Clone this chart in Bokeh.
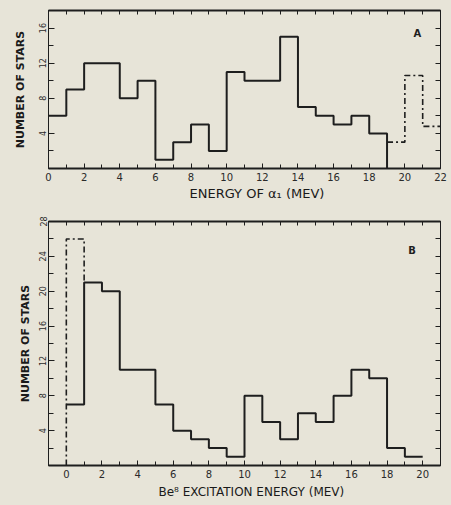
from bokeh.plotting import figure
from bokeh.models import LinearAxis, FixedTicker, Range1d, Label, Title
from bokeh.layouts import column
from bokeh.embed import file_html
from bokeh.resources import INLINE

# ---------------- data ----------------
# Panel A: energy of alpha_1 (MeV), bins of width 1
a_edges = list(range(0, 20))           # 0..19
a_counts = [6, 9, 12, 12, 8, 10, 1, 3, 5, 2, 11, 10, 10, 15, 7, 6, 5, 6, 4]
a_dash_edges = [19, 20, 21, 22]
a_dash_counts = [3, 10.6, 4.8]
a_xticks = [0, 2, 4, 6, 8, 10, 12, 14, 16, 18, 20, 22]
a_yticks = [4, 8, 12, 16]

# Panel B: Be8 excitation energy (MeV)
b_edges = list(range(0, 21))           # 0..20
b_counts = [7, 21, 20, 11, 11, 7, 4, 3, 2, 1, 8, 5, 3, 6, 5, 8, 11, 10, 2, 1]
b_dash_edges = [0, 1]
b_dash_counts = [26]
b_xticks = [0, 2, 4, 6, 8, 10, 12, 14, 16, 18, 20]
b_yticks = [4, 8, 12, 16, 20, 24, 28]

BG = "#e7e4d8"
INK = "#1e1e1e"
FONT = "DejaVu Sans"


def step_path(edges, counts, start0=False, end0=False):
    xs, ys = [], []
    if start0:
        xs.append(edges[0]); ys.append(0)
    for i, c in enumerate(counts):
        xs += [edges[i], edges[i + 1]]
        ys += [c, c]
    if end0:
        xs.append(edges[-1]); ys.append(0)
    return xs, ys


def make_panel(height, xr, yr, border_top, border_bottom, border_right,
               xticks, xminor, yticks, yminor, ytitle, ylab_standoff,
               xtitle, xtitle_offset, xtitle_size, xtitle_standoff):
    p = figure(width=451, height=height, x_range=Range1d(*xr), y_range=Range1d(*yr),
               output_backend="svg", toolbar_location=None,
               x_axis_location=None, y_axis_location=None,
               min_border_left=48, min_border_right=border_right,
               min_border_top=border_top, min_border_bottom=border_bottom)
    p.background_fill_color = BG
    p.border_fill_color = BG
    p.outline_line_color = INK
    p.outline_line_width = 1
    p.grid.visible = False

    def style(ax):
        ax.axis_line_color = INK
        ax.major_tick_line_color = INK
        ax.minor_tick_line_color = INK
        ax.major_tick_out = 0
        ax.minor_tick_out = 0
        ax.major_tick_in = 5
        ax.minor_tick_in = 4
        ax.major_label_text_color = "#2a2a2a"
        ax.major_label_text_font = FONT
        ax.major_label_text_font_size = "10px"
        ax.axis_label_text_font = FONT
        ax.axis_label_text_color = "#1a1a1a"
        ax.axis_label_text_font_style = "normal"

    # bottom axis
    xb = LinearAxis(ticker=FixedTicker(ticks=xticks, minor_ticks=xminor))
    style(xb)
    xb.axis_line_width = 2
    xb.major_label_standoff = 4
    p.add_layout(xb, "below")

    # x title below the axis, left aligned at an offset from the frame
    p.add_layout(Title(text=xtitle, align="left", offset=xtitle_offset,
                       standoff=xtitle_standoff, text_font=FONT,
                       text_font_size=xtitle_size, text_font_style="normal",
                       text_color="#1a1a1a"), "below")

    # top axis (ticks only, no labels)
    xt = LinearAxis(ticker=FixedTicker(ticks=[], minor_ticks=sorted(xticks + xminor)))
    style(xt)
    xt.axis_line_width = 2
    xt.minor_tick_in = 4
    p.add_layout(xt, "above")

    # left axis
    yl = LinearAxis(ticker=FixedTicker(ticks=yticks, minor_ticks=yminor))
    style(yl)
    yl.major_tick_in = 6
    yl.minor_tick_in = 5
    yl.major_label_orientation = "vertical"
    yl.major_label_text_font_size = "8px"
    yl.major_label_standoff = 2
    yl.axis_label = ytitle
    yl.axis_label_text_font_size = "11px"
    yl.axis_label_text_font_style = "bold"
    yl.axis_label_standoff = ylab_standoff
    p.add_layout(yl, "left")

    # right axis (ticks only, no labels)
    yr_ax = LinearAxis(ticker=FixedTicker(ticks=[], minor_ticks=sorted(yminor + yticks)))
    style(yr_ax)
    yr_ax.minor_tick_in = 5
    yr_ax.axis_line_alpha = 0.6
    p.add_layout(yr_ax, "right")
    return p


# ---------------- panel A ----------------
pa = make_panel(215, (0, 22), (0, 18), 10, 47, 10,
                a_xticks, [t + 1 for t in a_xticks[:-1]],
                a_yticks, [2, 6, 10, 14],
                "NUMBER OF STARS", 10,
                "ENERGY OF \u03b1\u2081 (MEV)", 141, "13px", 0)
xs, ys = step_path(a_edges, a_counts, start0=False, end0=True)
pa.line(xs, ys, line_color=INK, line_width=2)
xs, ys = step_path(a_dash_edges, a_dash_counts)
pa.line(xs, ys, line_color=INK, line_width=1.6, line_dash="6 3 2 3")
pa.add_layout(Label(x=20.7, y=15.4, text="A", text_font=FONT, text_font_size="10px",
                    text_font_style="bold", text_color=INK, text_align="center",
                    text_baseline="middle"))

# ---------------- panel B ----------------
pb = make_panel(290, (-1, 21), (0, 28), 6, 40, 11,
                b_xticks, [-1] + [t + 1 for t in b_xticks],
                b_yticks, [2, 6, 10, 14, 18, 22, 26],
                "NUMBER OF STARS", 5,
                "Be\u2078 EXCITATION ENERGY (MEV)", 110, "12px", 5)
xs, ys = step_path(b_edges, b_counts)
pb.line(xs, ys, line_color=INK, line_width=2)
xs, ys = step_path(b_dash_edges, b_dash_counts, start0=True)
xs.append(b_dash_edges[-1]); ys.append(b_counts[1])
pb.line(xs, ys, line_color=INK, line_width=1.6, line_dash="6 3 2 3")
pb.add_layout(Label(x=19.4, y=24.7, text="B", text_font=FONT, text_font_size="10px",
                    text_font_style="bold", text_color=INK, text_align="center",
                    text_baseline="middle"))

layout = column(pa, pb, spacing=0)
layout.styles = {"background-color": BG}
open("out.html", "w").write(file_html(layout, INLINE))
